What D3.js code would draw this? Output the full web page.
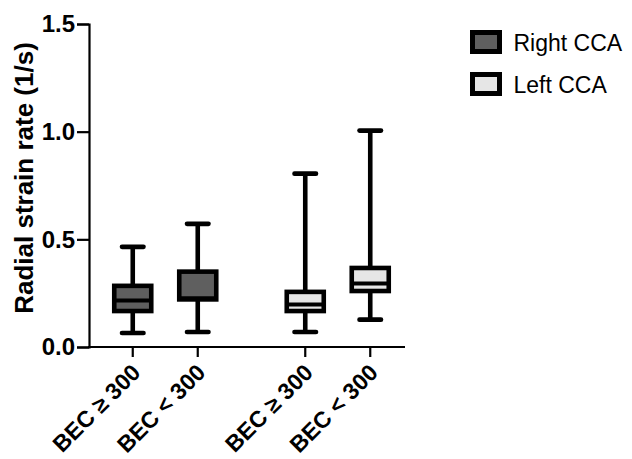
<!DOCTYPE html>
<html>
<head>
<meta charset="utf-8">
<script src="https://cdn.jsdelivr.net/npm/d3@7"></script>
<style>
  body { margin: 0; background: #fff; }
  text { font-family: "Liberation Sans", Arial, sans-serif; }
</style>
</head>
<body>
<div id="chart"></div>
<script>
// groups (legend) and sub categories (x tick labels)
var groups = ["Right CCA", "Left CCA"];
var subCats = ["BEC \u2265 300", "BEC < 300"];
var groupColors = ["#5f5f5f", "#e6e6e6"];

// box summaries, one entry per group, in subCats order
var whiskerMin = [[0.065, 0.07], [0.07, 0.127]];
var q1Values   = [[0.167, 0.221], [0.167, 0.26]];
var medians    = [[0.216, 0.226], [0.197, 0.295]];
var q3Values   = [[0.284, 0.35], [0.256, 0.367]];
var whiskerMax = [[0.465, 0.572], [0.805, 1.005]];

var yTicks = [0, 0.5, 1.0, 1.5];

var width = 632, height = 459;
var svg = d3.select("#chart").append("svg")
    .attr("width", width)
    .attr("height", height);

var y = d3.scaleLinear().domain([0, 1.5]).range([347, 24]);

var xGroup = d3.scaleBand().domain(groups).range([79, 424]);
var xSub = d3.scalePoint().domain(subCats).range([0, xGroup.bandwidth()]).padding(0.827);

var boxes = [];
groups.forEach(function(g, gi) {
    subCats.forEach(function(s, si) {
        boxes.push({
            group: g, sub: s, gi: gi,
            min: whiskerMin[gi][si], q1: q1Values[gi][si], med: medians[gi][si],
            q3: q3Values[gi][si], max: whiskerMax[gi][si]
        });
    });
});

function cx(d) { return xGroup(d.group) + xSub(d.sub); }

var boxW = 37, capW = 21.5, sw = 4.6;

// whiskers
var marks = svg.append("g");
marks.selectAll(".whisker").data(boxes).enter().append("line")
    .attr("x1", cx).attr("x2", cx)
    .attr("y1", function(d) { return y(d.min); })
    .attr("y2", function(d) { return y(d.max); })
    .attr("stroke", "#000").attr("stroke-width", sw);

["min", "max"].forEach(function(k) {
    marks.selectAll(".cap-" + k).data(boxes).enter().append("line")
        .attr("x1", function(d) { return cx(d) - capW / 2; })
        .attr("x2", function(d) { return cx(d) + capW / 2; })
        .attr("y1", function(d) { return y(d[k]); })
        .attr("y2", function(d) { return y(d[k]); })
        .attr("stroke", "#000").attr("stroke-width", sw)
        .attr("stroke-linecap", "round");
});

// boxes
marks.selectAll(".box").data(boxes).enter().append("rect")
    .attr("x", function(d) { return cx(d) - boxW / 2; })
    .attr("width", boxW)
    .attr("y", function(d) { return y(d.q3); })
    .attr("height", function(d) { return y(d.q1) - y(d.q3); })
    .attr("fill", function(d) { return groupColors[d.gi]; })
    .attr("stroke", "#000").attr("stroke-width", sw);

// medians
marks.selectAll(".median").data(boxes).enter().append("line")
    .attr("x1", function(d) { return cx(d) - boxW / 2; })
    .attr("x2", function(d) { return cx(d) + boxW / 2; })
    .attr("y1", function(d) { return y(d.med); })
    .attr("y2", function(d) { return y(d.med); })
    .attr("stroke", "#000").attr("stroke-width", 4);

// y axis
var yAxis = svg.append("g")
    .attr("transform", "translate(89,0)")
    .call(d3.axisLeft(y).tickValues(yTicks).tickFormat(d3.format(".1f")).tickSize(12).tickPadding(2));
yAxis.select(".domain").attr("stroke-width", 2.2);
yAxis.selectAll(".tick line").attr("stroke-width", 2.2);
yAxis.selectAll(".tick text")
    .attr("font-size", 24).attr("font-weight", "bold").attr("fill", "#000")
    .attr("font-family", "'Liberation Sans', Arial, sans-serif");

// x axis
var xAxisG = svg.append("g").attr("transform", "translate(0,347)");
xAxisG.append("line")
    .attr("x1", 88).attr("x2", 405)
    .attr("stroke", "#000").attr("stroke-width", 2.2);
xAxisG.selectAll(".xtick").data(boxes).enter().append("line")
    .attr("x1", cx).attr("x2", cx)
    .attr("y1", 0).attr("y2", 10)
    .attr("stroke", "#000").attr("stroke-width", 2.2);
xAxisG.selectAll(".xlabel").data(boxes).enter().append("text")
    .attr("transform", function(d) { return "translate(" + (cx(d) + 9) + ",27) rotate(-45)"; })
    .attr("text-anchor", "end")
    .attr("font-size", 23).attr("font-weight", "bold")
    .text(function(d) { return d.sub; });

// y title
svg.append("text")
    .attr("transform", "translate(33,178) rotate(-90)")
    .attr("text-anchor", "middle")
    .attr("font-size", 26).attr("font-weight", "bold")
    .text("Radial strain rate (1/s)");

// legend
var legend = svg.append("g").selectAll("g").data(groups).enter().append("g")
    .attr("transform", function(d, i) { return "translate(472.5," + (32.5 + i * 42) + ")"; });
legend.append("rect")
    .attr("width", 27).attr("height", 19)
    .attr("fill", function(d, i) { return groupColors[i]; })
    .attr("stroke", "#000").attr("stroke-width", 5);
legend.append("text")
    .attr("x", 41).attr("y", 18.5)
    .attr("font-size", 23)
    .text(function(d) { return d; });
</script>
</body>
</html>
